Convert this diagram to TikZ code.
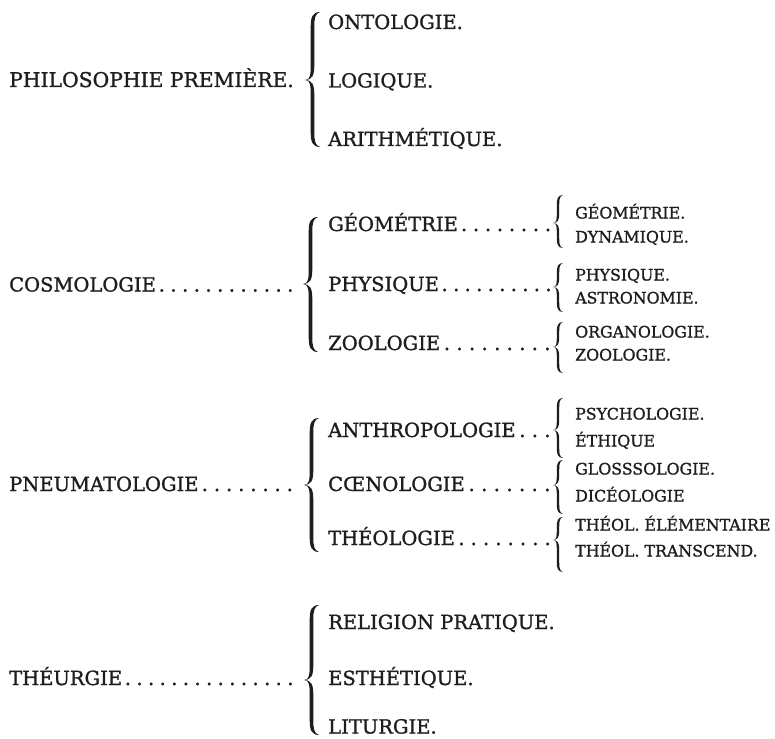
\documentclass[tikz,border=0pt]{standalone}
\usepackage{fontspec}
\setmainfont{DejaVu Serif}[FakeBold=1.3]
\definecolor{ink}{HTML}{1E1E1E}
\newcommand{\dotlead}{\xleaders\hbox to 11.5pt{\hss.\hss}\hfill}
% #1 tip x, #2 top y, #3 tip y, #4 bottom y, #5 width, #6 thickness
\newcommand{\curlybrace}[6]{%
  \pgfmathsetmacro\bXt{#1}%
  \pgfmathsetmacro\bXe{#1+#5}%
  \pgfmathsetmacro\bL{#1+0.5*#5-0.5*#6}%
  \pgfmathsetmacro\bR{#1+0.5*#5+0.5*#6}%
  \pgfmathsetmacro\bW{#5}%
  \fill[ink] (\bXe,#2)
    .. controls (\bL+0.1*\bW,#2+0.02*\bW) and (\bL,#2+0.35*\bW) .. (\bL,#2+\bW)
    -- (\bL,#3-\bW)
    .. controls (\bL,#3-0.35*\bW) and (\bXt+0.35*\bW,#3) .. (\bXt,#3)
    .. controls (\bXt+0.35*\bW,#3) and (\bL,#3+0.35*\bW) .. (\bL,#3+\bW)
    -- (\bL,#4-\bW)
    .. controls (\bL,#4-0.35*\bW) and (\bL+0.1*\bW,#4-0.02*\bW) .. (\bXe,#4)
    .. controls (\bR+0.05*\bW,#4-0.12*\bW) and (\bR,#4-0.4*\bW) .. (\bR,#4-\bW)
    -- (\bR,#3+\bW)
    .. controls (\bR,#3+0.3*\bW) and (\bXt+0.5*\bW,#3+0.02*\bW) .. (\bXt,#3)
    .. controls (\bXt+0.5*\bW,#3-0.02*\bW) and (\bR,#3-0.3*\bW) .. (\bR,#3-\bW)
    -- (\bR,#2+\bW)
    .. controls (\bR,#2+0.4*\bW) and (\bR+0.05*\bW,#2+0.12*\bW) .. (\bXe,#2) -- cycle;}
\tikzset{
  mainlbl/.style={anchor=base west, inner sep=0pt, text=ink, font=\fontsize{19.5}{19.5}\selectfont},
  sublbl/.style={anchor=base west, inner sep=0pt, text=ink, font=\fontsize{15.8}{15.8}\selectfont}
}
\begin{document}
\begin{tikzpicture}[x=1pt,y=-1pt]
\useasboundingbox (0,0) rectangle (775,738);
% ---------- group 1
\node[mainlbl, font=\fontsize{20.3}{20.3}\selectfont] (pp) at (9,87) {PHILOSOPHIE PREMIÈRE.};
\curlybrace{305}{12}{80}{147}{15}{3.6}
\node[mainlbl] (onto) at (328,29) {ONTOLOGIE.};
\node[mainlbl] (logi) at (328,87.5) {LOGIQUE.};
\node[mainlbl] (arit) at (328,146) {ARITHMÉTIQUE.};
% ---------- group 2
\node[mainlbl] (cosmo) at (9,291.5) {\makebox[287pt][l]{COSMOLOGIE\dotlead}};
\curlybrace{303}{217}{284}{352}{15}{3.6}
\node[mainlbl] (geo) at (328,231) {\makebox[226pt][l]{GÉOMÉTRIE\dotlead}};
\node[mainlbl] (phy) at (328,291) {\makebox[226pt][l]{PHYSIQUE\dotlead}};
\node[mainlbl] (zoo) at (328,350) {\makebox[226pt][l]{ZOOLOGIE\dotlead}};
\curlybrace{553}{195}{223}{248}{10}{2.4}
\curlybrace{553}{263}{287}{312}{10}{2.4}
\curlybrace{553}{322}{347}{373}{10}{2.4}
\node[sublbl] (geo2) at (575,218.5) {GÉOMÉTRIE.};
\node[sublbl] (dyn) at (575,242.5) {DYNAMIQUE.};
\node[sublbl] (phy2) at (575,280.5) {PHYSIQUE.};
\node[sublbl] (astro) at (575,303.5) {ASTRONOMIE.};
\node[sublbl] (organ) at (575,337.5) {ORGANOLOGIE.};
\node[sublbl] (zoo2) at (575,360.5) {ZOOLOGIE.};
% ---------- group 3
\node[mainlbl] (pneu) at (9,491) {\makebox[287pt][l]{PNEUMATOLOGIE\dotlead}};
\curlybrace{304}{418}{485}{552}{15}{3.6}
\node[mainlbl] (anth) at (328,437) {\makebox[226pt][l]{ANTHROPOLOGIE\dotlead}};
\node[mainlbl] (coen) at (328,491) {\makebox[226pt][l]{CŒNOLOGIE\dotlead}};
\node[mainlbl] (theo) at (328,545) {\makebox[226pt][l]{THÉOLOGIE\dotlead}};
\curlybrace{553}{398}{430}{458}{10}{2.4}
\curlybrace{553}{460}{485}{514}{10}{2.4}
\curlybrace{553}{517}{540}{572}{10}{2.4}
\node[sublbl] (psy) at (575,419.5) {PSYCHOLOGIE.};
\node[sublbl] (eth) at (575,446.5) {ÉTHIQUE};
\node[sublbl] (glo) at (575,474.5) {GLOSSSOLOGIE.};
\node[sublbl] (dic) at (575,501.5) {DICÉOLOGIE};
\node[sublbl] (tel) at (575,530.5) {THÉOL. ÉLÉMENTAIRE};
\node[sublbl] (ttr) at (575,556.5) {THÉOL. TRANSCEND.};
% ---------- group 4
\node[mainlbl] (theu) at (9,685) {\makebox[287pt][l]{THÉURGIE\dotlead}};
\curlybrace{304}{605}{680}{735}{15}{3.6}
\node[mainlbl] (reli) at (328,629) {RELIGION PRATIQUE.};
\node[mainlbl] (esth) at (328,685) {ESTHÉTIQUE.};
\node[mainlbl] (litu) at (328,733.5) {LITURGIE.};
\end{tikzpicture}
\end{document}
